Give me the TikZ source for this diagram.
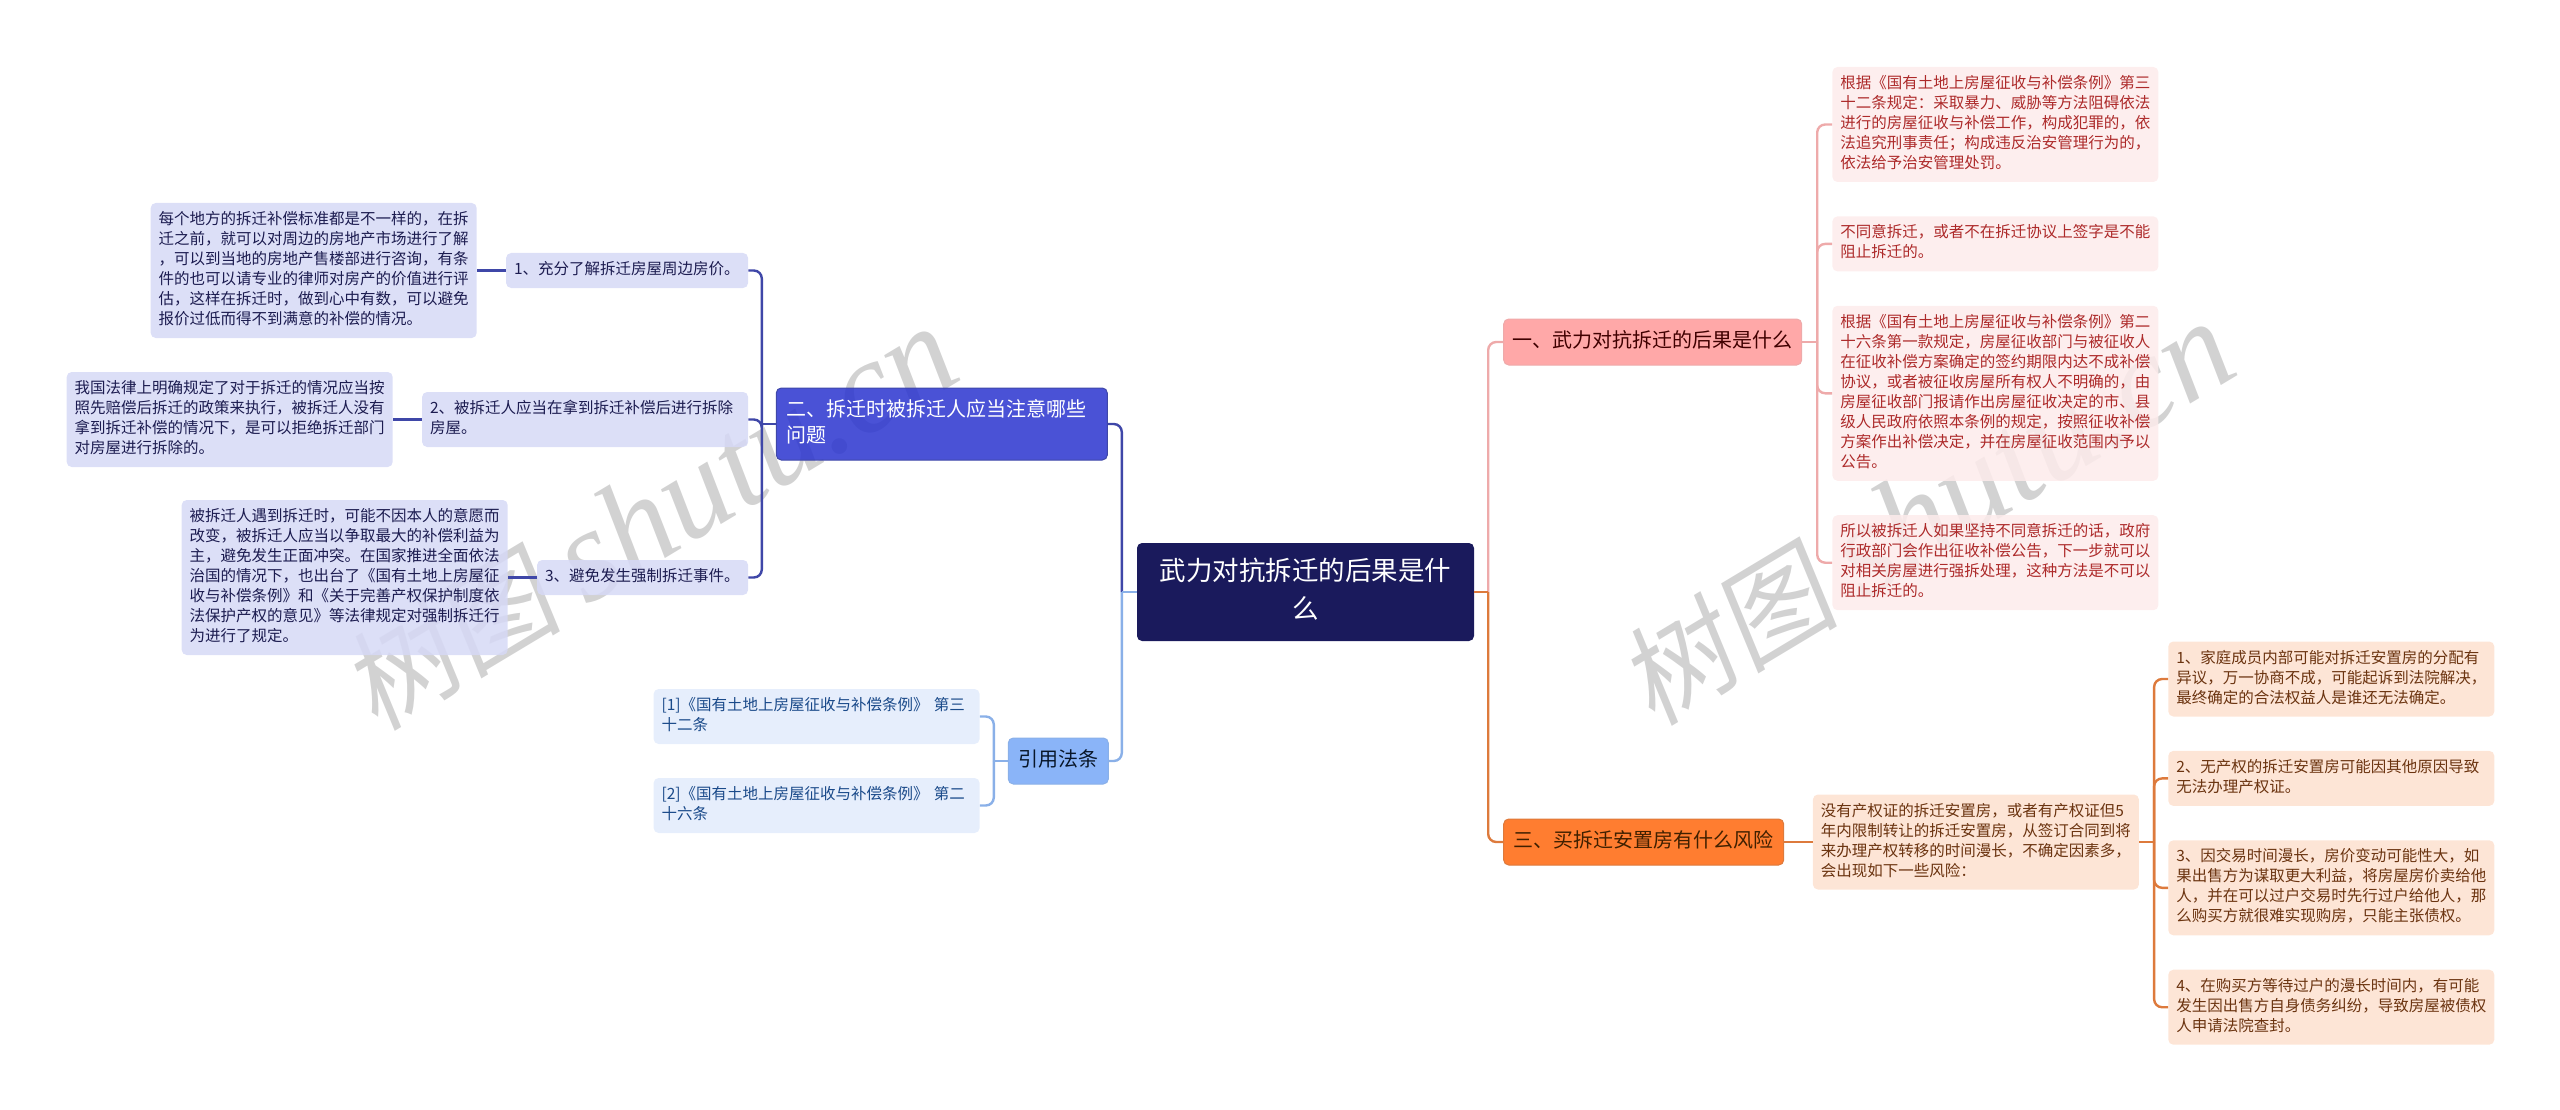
\documentclass[tikz,border=0pt]{standalone}
\usepackage{fontspec}
\setmainfont{Noto Sans CJK SC}
\newfontfamily\wmcjk[FakeSlant=0.15]{Noto Sans CJK SC}
\newfontfamily\wmlat{Liberation Serif}
\usetikzlibrary{positioning,calc}
\pgfdeclarelayer{background}
\pgfsetlayers{background,main}
\definecolor{rootfill}{HTML}{1A1A5C}
\definecolor{bluefill}{HTML}{2A34CF}
\definecolor{blueedge}{HTML}{3F47A8}
\definecolor{bluepale}{HTML}{D6D9F6}
\definecolor{bluetext}{HTML}{1C1C50}
\definecolor{redfill}{HTML}{FF9999}
\definecolor{redline}{HTML}{EEAAAA}
\definecolor{redpale}{HTML}{FDEBEB}
\definecolor{redtext}{HTML}{AD2A2A}
\definecolor{orangefill}{HTML}{FF660C}
\definecolor{orangeline}{HTML}{DD7A3C}
\definecolor{orangepale}{HTML}{FDE0CF}
\definecolor{orangetext}{HTML}{6B3410}
\definecolor{skyfill}{HTML}{76A7F7}
\definecolor{skyline}{HTML}{8AB0E8}
\definecolor{skypale}{HTML}{E2EBFB}
\definecolor{skytext}{HTML}{1A4A8A}
\definecolor{markgray}{HTML}{D2D2D2}

\begin{document}
\begin{tikzpicture}[x=1pt, y=-1pt]

\tikzstyle{anybox} = [rounded corners=5pt, align=left, fill opacity=0.85, text opacity=1, execute at begin node=\strut, execute at end node=\strut]
\tikzstyle{leafbox} = [anybox, font=\fontsize{15.5}{20}\selectfont, inner xsep=8pt, inner ysep=7.5pt]
\tikzstyle{wideleaf} = [leafbox, text width=310pt]
\tikzstyle{topicbox} = [anybox, font=\fontsize{20}{26}\selectfont, inner xsep=10pt, inner ysep=10pt, line width=1pt]
\tikzstyle{rootbox} = [rounded corners=5pt, align=center, fill=rootfill, text=white, text width=293pt, inner xsep=22pt, inner ysep=11pt, font=\fontsize{26.5}{38}\selectfont, execute at begin node=\strut, execute at end node=\strut]
\tikzstyle{redbox} = [wideleaf, fill=redpale, text=redtext]
\tikzstyle{orangebox} = [wideleaf, fill=orangepale, text=orangetext]
\tikzstyle{bluebox} = [wideleaf, fill=bluepale, text=bluetext]
\tikzstyle{bluetag} = [leafbox, fill=bluepale, text=bluetext]
\tikzstyle{skybox} = [wideleaf, fill=skypale, text=skytext]
\tikzstyle{linkred} = [redline, line width=2.4pt, rounded corners=8pt]
\tikzstyle{linkorange} = [orangeline, line width=2.4pt, rounded corners=8pt]
\tikzstyle{linkblue} = [blueedge, line width=2.4pt, rounded corners=8pt]
\tikzstyle{linksky} = [skyline, line width=2.4pt, rounded corners=8pt]
\tikzstyle{markbox} = [rotate=31, text=markgray, inner sep=0]

\useasboundingbox (0,0) rectangle (2560,1110);

\begin{pgfonlayer}{background}
	\node[markbox] (markl) at (650,519) {\fontsize{110}{110}\selectfont{\wmcjk 树图} \fontsize{132}{132}\selectfont{\wmlat\itshape shutu.cn}};
	\node[markbox] (markr) at (1927,514) {\fontsize{110}{110}\selectfont{\wmcjk 树图} \fontsize{132}{132}\selectfont{\wmlat\itshape shutu.cn}};
\end{pgfonlayer}

\node[rootbox] (root) at (1305.5,592) {武力对抗拆迁的后果是什\\么};

\node[topicbox, inner xsep=9pt, fill=redfill, draw=redline, text=black!75!red, above right=250pt and 29pt of root.east, anchor=west] (risk1) {一、武力对抗拆迁的后果是什么};
\node[topicbox, fill=orangefill, draw=orangeline, text=black!75!orange, below right=250pt and 29pt of root.east, anchor=west] (risk3) {三、买拆迁安置房有什么风险};
\node[topicbox, fill=bluefill, draw=blueedge, text=white, text width=311pt, above left=168pt and 29pt of root.west, anchor=east] (risk2) {二、拆迁时被拆迁人应当注意哪些\\问题};
\node[topicbox, fill=skyfill, draw=skyline, text=black!70!skytext, below left=169pt and 28pt of root.west, anchor=east] (cite) {引用法条};

\node[redbox, above right=217.5pt and 30pt of risk1.east, anchor=west] (red1) {根据《国有土地上房屋征收与补偿条例》第三\\十二条规定：采取暴力、威胁等方法阻碍依法\\进行的房屋征收与补偿工作，构成犯罪的，依\\法追究刑事责任；构成违反治安管理行为的，\\依法给予治安管理处罚。};
\node[redbox, below=34pt of red1] (red2) {不同意拆迁，或者不在拆迁协议上签字是不能\\阻止拆迁的。};
\node[redbox, below=34pt of red2] (red3) {根据《国有土地上房屋征收与补偿条例》第二\\十六条第一款规定，房屋征收部门与被征收人\\在征收补偿方案确定的签约期限内达不成补偿\\协议，或者被征收房屋所有权人不明确的，由\\房屋征收部门报请作出房屋征收决定的市、县\\级人民政府依照本条例的规定，按照征收补偿\\方案作出补偿决定，并在房屋征收范围内予以\\公告。};
\node[redbox, below=34pt of red3] (red4) {所以被拆迁人如果坚持不同意拆迁的话，政府\\行政部门会作出征收补偿公告，下一步就可以\\对相关房屋进行强拆处理，这种方法是不可以\\阻止拆迁的。};

\node[orangebox, right=28.5pt of risk3] (house) {没有产权证的拆迁安置房，或者有产权证但5\\年内限制转让的拆迁安置房，从签订合同到将\\来办理产权转移的时间漫长，不确定因素多，\\会出现如下一些风险：};
\node[orangebox, above right=163pt and 29pt of house.east, anchor=west] (ora1) {1、家庭成员内部可能对拆迁安置房的分配有\\异议，万一协商不成，可能起诉到法院解决，\\最终确定的合法权益人是谁还无法确定。};
\node[orangebox, below=34pt of ora1] (ora2) {2、无产权的拆迁安置房可能因其他原因导致\\无法办理产权证。};
\node[orangebox, below=34pt of ora2] (ora3) {3、因交易时间漫长，房价变动可能性大，如\\果出售方为谋取更大利益，将房屋房价卖给他\\人，并在可以过户交易时先行过户给他人，那\\么购买方就很难实现购房，只能主张债权。};
\node[orangebox, below=34pt of ora3] (ora4) {4、在购买方等待过户的漫长时间内，有可能\\发生因出售方自身债务纠纷，导致房屋被债权\\人申请法院查封。};

\node[bluetag, text width=226pt, above left=153.5pt and 27.5pt of risk2.west, anchor=east] (tip1) {1、充分了解拆迁房屋周边房价。};
\node[bluebox, above left=4.5pt and 27.5pt of risk2.west, anchor=east] (tip2) {2、被拆迁人应当在拿到拆迁补偿后进行拆除\\房屋。};
\node[bluetag, text width=195pt, below left=153.5pt and 27.5pt of risk2.west, anchor=east] (tip3) {3、避免发生强制拆迁事件。};

\node[bluebox, left=29pt of tip1] (note1) {每个地方的拆迁补偿标准都是不一样的，在拆\\迁之前，就可以对周边的房地产市场进行了解\\，可以到当地的房地产售楼部进行咨询，有条\\件的也可以请专业的律师对房产的价值进行评\\估，这样在拆迁时，做到心中有数，可以避免\\报价过低而得不到满意的补偿的情况。};
\node[bluebox, left=29pt of tip2] (note2) {我国法律上明确规定了对于拆迁的情况应当按\\照先赔偿后拆迁的政策来执行，被拆迁人没有\\拿到拆迁补偿的情况下，是可以拒绝拆迁部门\\对房屋进行拆除的。};
\node[bluebox, left=29pt of tip3] (note3) {被拆迁人遇到拆迁时，可能不因本人的意愿而\\改变，被拆迁人应当以争取最大的补偿利益为\\主，避免发生正面冲突。在国家推进全面依法\\治国的情况下，也出台了《国有土地上房屋征\\收与补偿条例》和《关于完善产权保护制度依\\法保护产权的意见》等法律规定对强制拆迁行\\为进行了规定。};

\node[skybox, above left=44.5pt and 28pt of cite.west, anchor=east] (law1) {[1]《国有土地上房屋征收与补偿条例》 第三\\十二条};
\node[skybox, below left=44.5pt and 28pt of cite.west, anchor=east] (law2) {[2]《国有土地上房屋征收与补偿条例》 第二\\十六条};

\coordinate[right=14pt of root.east] (rootr);
\coordinate[left=15pt of root.west] (rootl);
\coordinate[right=15pt of risk1.east] (red0);
\coordinate[right=15pt of house.east] (ora0);
\coordinate[left=14pt of risk2.west] (tip0);
\coordinate[left=14pt of cite.west] (law0);

\draw[linkred] (rootr) |- (risk1.west);
\draw[linkblue] (rootl) |- (risk2.east);
\draw[linkorange] (rootr) |- (risk3.west);
\draw[linksky] (rootl) |- (cite.east);
\draw[orangeline, line width=2.4pt] (root.east) -- (rootr);
\draw[skyline, line width=2.4pt] (root.west) -- (rootl);

\draw[linkred] (risk1.east) -- (red0);
\draw[linkred] (red0) |- (red1.west);
\draw[linkred] (red0) |- (red2.west);
\draw[linkred] (red0) |- (red3.west);
\draw[linkred] (red0) |- (red4.west);

\draw[linkorange] (risk3.east) -- (house.west);
\draw[linkorange] (house.east) -- (ora0);
\draw[linkorange] (ora0) |- (ora1.west);
\draw[linkorange] (ora0) |- (ora2.west);
\draw[linkorange] (ora0) |- (ora3.west);
\draw[linkorange] (ora0) |- (ora4.west);

\draw[linkblue] (risk2.west) -- (tip0);
\draw[linkblue] (tip0) |- (tip1.east);
\draw[linkblue] (tip0) |- (tip2.east);
\draw[linkblue] (tip0) |- (tip3.east);
\draw[linkblue] (tip1.west) -- (note1.east);
\draw[linkblue] (tip2.west) -- (note2.east);
\draw[linkblue] (tip3.west) -- (note3.east);

\draw[linksky] (cite.west) -- (law0);
\draw[linksky] (law0) |- (law1.east);
\draw[linksky] (law0) |- (law2.east);

\end{tikzpicture}
\end{document}
